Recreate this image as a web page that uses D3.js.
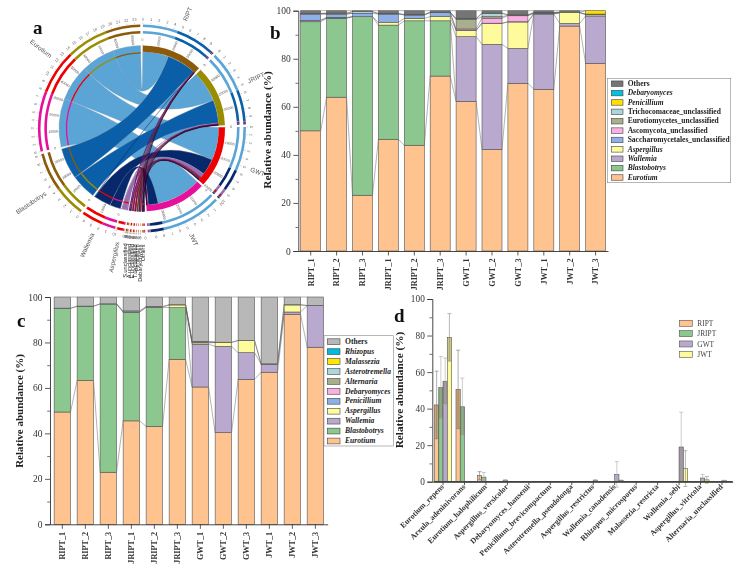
<!DOCTYPE html>
<html><head><meta charset="utf-8">
<script src="https://cdn.jsdelivr.net/npm/d3@7/dist/d3.min.js"></script>
<style>
html,body{margin:0;padding:0;background:#fff}
svg{display:block;filter:blur(.42px)}
text{font-family:"Liberation Serif",serif}
</style></head><body>
<svg id="c" width="750" height="569"></svg>
<script>
// ---------- shared categories ----------
const samples = ["RIPT_1","RIPT_2","RIPT_3","JRIPT_1","JRIPT_2","JRIPT_3","GWT_1","GWT_2","GWT_3","JWT_1","JWT_2","JWT_3"];
const yTicksMajor = [0,20,40,60,80,100];
const yTicksMinor = [10,30,50,70,90];

// ---------- panel a: chord flows (percent) ----------
const chordSamples = ["RIPT","JRIPT","GWT","JWT"];
const chordGenera = ["Eurotium","Blastobotrys","Wallemia","Aspergillus","S.unclassified","A.unclassified","E.unclassified","T.unclassified","Penicillium","Debaryomyces","Others"];
const flowRIPT  = [45.7,50.8,0.2,0,1.6,0.2,0.2,0.2,0.2,0.1,0.7];
const flowJRIPT = [54.5,40.8,0,0.8,1.6,0.1,0.1,0.2,0.1,0.1,1.3];
const flowGWT   = [58,0,28.5,7.5,0.3,1.8,1.8,0.6,0.4,0.3,1.5];
const flowJWT   = [79,0,17.5,2,0.1,0.1,0.1,0.1,0.2,0.1,0.7];
const sampleColors = ["#8B5A0B","#9A8C00","#EE0000","#E6109A"];
const generaColors = ["#5AA5D6","#0B5EA8","#07296B","#9A6BB0","#5A1A6A","#8B1050","#7A1040","#5A3A10","#401060","#801030","#200838"];

// ---------- panel b: stacked values ----------
const bEurotium = [50,64,23.2,46.5,44,72.8,62.3,42.3,69.8,67.3,93.6,78.1];
const bBlastobotrys = [45.4,32.8,74.3,47.5,51.8,23,0,0,0,0,0,0];
const bWallemia = [0.6,0.2,0,0,0,0,26.9,43.7,14.5,31.3,1.1,19.7];
const bAspergillus = [0,0.2,0,1.2,1,1.7,2.5,8.7,11,0.1,4.5,0.5];
const bSaccharomycetales = [2.6,1.4,1.4,3.4,1.4,1.7,0.2,0.1,0.1,0.1,0,0];
const bAscomycota = [0,0,0,0,0,0,0.5,2.1,2.5,0.1,0,0];
const bEurotiomycetes = [0.1,0.1,0,0,0,0,4,0.6,0.2,0.1,0,0.2];
const bTrichocomaceae = [0.1,0.1,0.7,0.1,0.1,0.1,0.2,1.4,0.1,0.1,0,0.1];
const bPenicillium = [0.1,0.2,0,0.2,0.1,0.1,0.2,0.1,0.1,0.2,0.2,1.4];
const bDebaryomyces = [0,0,0,0,0,0,0,0,0,0,0,0];
const bOthers = [1.1,1,0.4,1.1,1.6,0.6,3.2,1,1.7,0.7,0.6,0];
const bNames = ["Eurotium","Blastobotrys","Wallemia","Aspergillus","Saccharomycetales_unclassified","Ascomycota_unclassified","Eurotiomycetes_unclassified","Trichocomaceae_unclassified","Penicillium","Debaryomyces","Others"];
const bColors = ["#FFC38F","#8CC78F","#B9A9CE","#FDFB9C","#8FAFE8","#FBB0E4","#A9AE8C","#ABD6DC","#FFDE00","#00C2E0","#757575"];
const bItalic = [1,1,1,1,0,0,0,0,1,1,0];

// ---------- panel c: stacked values ----------
const cEurotium = [49.4,63.3,22.9,45.5,43.1,72.6,60.4,40.3,63.8,66.9,92.4,77.9];
const cBlastobotrys = [45.5,32.6,74,47.8,52.4,22.7,0,0,0,0,0,0];
const cWallemia = [0,0,0,0,0,0,18.8,38,11.7,3.5,1,18.3];
const cAspergillus = [0,0,0,0.1,0.1,1.2,0.6,1.7,5.3,0.1,3.1,0];
const cPenicillium = [0.2,0.1,0.1,0.5,0.2,0.1,0.1,0.1,0.1,0.1,0.1,0.1];
const cDebaryomyces = [0,0,0,0,0,0,0,0,0,0,0,0];
const cAlternaria = [0,0,0,0,0,0,0.5,0,0,0,0,0];
const cAsterotremella = [0,0,0,0,0,0,0,0,0,0,0,0];
const cMalassezia = [0,0,0,0,0,0,0,0,0,0,0,0];
const cRhizopus = [0,0,0,0,0,0,0.1,0,0,0,0,0];
const cOthers = [4.9,4,3,6.1,4.2,3.4,19.5,19.9,19.1,29.4,3.4,3.7];
const cNames = ["Eurotium","Blastobotrys","Wallemia","Aspergillus","Penicillium","Debaryomyces","Alternaria","Asterotremella","Malassezia","Rhizopus","Others"];
const cColors = ["#FFC38F","#8CC78F","#B9A9CE","#FDFB9C","#8FAFE8","#FBB0E4","#A9AE8C","#ABD6DC","#FFE800","#00BADF","#B8B8B8"];
const cItalic = [1,1,1,1,1,1,1,1,1,1,0];

// ---------- panel d: grouped values ----------
const species = ["Eurotium_repens","Arxula_adeninivorans","Eurotium_halophilicum","Aspergillus_versicolor","Debaryomyces_hansenii","Penicillium_brevicompactum","Asterotremella_pseudolonga","Aspergillus_restrictus","Wallemia_canadensis","Rhizopus_microsporus","Malassezia_restricta","Wallemia_sebi","Aspergillus_vitricola","Alternaria_unclassified"];
const dGroups = ["RIPT","JRIPT","GWT","JWT"];
const dRIPT  = [42,50.5,3.3,0.1,0.1,0.1,0.1,0.1,0.1,0.1,0.1,0.1,0.1,0.1];
const dJRIPT = [51.5,41,2.5,0.8,0.1,0.1,0.1,0.1,0.1,0.1,0.1,0.1,0.1,0.1];
const dGWT   = [55,0.1,0.1,0.1,0.1,0.1,0.1,0.8,4,0.1,0.1,19,2,0.6];
const dJWT   = [79,0.1,0.1,0.1,0.1,0.1,0.1,0.1,0.6,0.1,0.1,7.2,1,0.1];
const dRIPTerr  = [18.5,21.5,2.2,0,0,0,0,0,0,0,0,0,0,0];
const dJRIPTerr = [17,15.7,2.5,0.4,0,0,0,0,0,0,0,0,0,0];
const dGWTerr   = [12.7,0,0,0,0,0,0,0.4,7,0,0,19,2,0.2];
const dJWTerr   = [13,0,0,0,0,0,0,0,0.3,0,0,9.8,1.8,0];
const dColors = ["#FFC38F","#8CC78F","#B9A9CE","#FDFB9C"];
const dErrColors = ["#777","#aaa","#aaa","#8a8a8a"];

const svg = d3.select("#c");
const AX = "#333", TX = "#333";

function styleAxis(g, fs, bold){
  g.selectAll(".domain").attr("stroke",AX).attr("stroke-width",0.9);
  g.selectAll(".tick line").attr("stroke",AX).attr("stroke-width",0.8);
  g.selectAll(".tick text").attr("fill",TX).style("font-family",'"Liberation Serif",serif')
    .style("font-size",fs+"px").style("font-weight",bold?"bold":"normal");
}
function yAxis(y, left, fs){
  const g = svg.append("g").attr("transform",`translate(${left},0)`)
    .call(d3.axisLeft(y).tickValues(yTicksMajor).tickFormat(d3.format("d")).tickSize(5).tickPadding(2.5));
  styleAxis(g,fs,false);
  const m = svg.append("g").attr("transform",`translate(${left},0)`)
    .call(d3.axisLeft(y).tickValues(yTicksMinor).tickFormat("").tickSize(2.8));
  m.select(".domain").remove();
  m.selectAll(".tick line").attr("stroke",AX).attr("stroke-width",0.7);
}
function yTitle(x, yc, fs){
  svg.append("text").attr("transform",`translate(${x},${yc}) rotate(-90)`).attr("text-anchor","middle")
    .attr("fill","#222").style("font-weight","bold").style("font-size",fs+"px").text("Relative abundance (%)");
}
function panelLetter(t,x,y){
  svg.append("text").attr("x",x).attr("y",y).attr("fill","#111").style("font-weight","bold").style("font-size","19px").text(t);
}

function stackedPanel(cfg){
  const rows = samples.map((s,i)=>{const r={sample:s}; cfg.names.forEach((n,k)=>r[n]=cfg.series[k][i]); return r;});
  const stack = d3.stack().keys(cfg.names)(rows);
  const x = d3.scaleBand().domain(samples).range(cfg.xr).paddingInner(cfg.pi).paddingOuter(cfg.po);
  const y = d3.scaleLinear().domain([0,100]).range(cfg.yr);
  // connector lines
  const cg = svg.append("g");
  stack.forEach(s=>{
    d3.pairs(s).forEach(([a,b])=>{
      if(a[1]-a[0]<=0 && b[1]-b[0]<=0) return;
      cg.append("line").attr("x1",x(a.data.sample)+x.bandwidth()).attr("x2",x(b.data.sample))
        .attr("y1",y(a[1])).attr("y2",y(b[1])).attr("stroke","#555").attr("stroke-width",0.45);
    });
  });
  stack.forEach((s,k)=>{
    svg.append("g").selectAll("rect").data(s.filter(d=>d[1]-d[0]>0)).join("rect")
      .attr("x",d=>x(d.data.sample)).attr("width",x.bandwidth())
      .attr("y",d=>y(d[1])).attr("height",d=>y(d[0])-y(d[1]))
      .attr("fill",cfg.colors[k]).attr("stroke","#555").attr("stroke-width",0.6);
  });
  const gx = svg.append("g").attr("transform",`translate(0,${cfg.yr[0]})`)
    .call(d3.axisBottom(x).tickSize(4.5).tickSizeOuter(0));
  styleAxis(gx,cfg.xfs,true);
  gx.selectAll(".tick text").attr("transform","rotate(-90)").attr("text-anchor","end").attr("dx",-3.5).attr("dy",0).attr("x",-4).attr("y",2.8);
  yAxis(y,cfg.xr[0],cfg.yfs);
  // legend
  const L = cfg.legend;
  svg.append("rect").attr("x",L.x).attr("y",L.y).attr("width",L.w).attr("height",L.h).attr("fill","#fff").attr("stroke","#888").attr("stroke-width",0.6);
  cfg.names.slice().reverse().forEach((n,j)=>{
    const k = cfg.names.length-1-j, yy = L.y0 + j*L.dy;
    svg.append("rect").attr("x",L.sx).attr("y",yy-L.sh/2).attr("width",L.sw).attr("height",L.sh).attr("fill",cfg.colors[k]).attr("stroke","#444").attr("stroke-width",0.6);
    svg.append("text").attr("x",L.tx).attr("y",yy+2.2).attr("fill","#222").style("font-weight","bold").style("font-size",L.fs+"px")
      .style("font-style",cfg.italic[k]?"italic":"normal").text(n);
  });
}

stackedPanel({
  names:bNames, colors:bColors, italic:bItalic,
  series:[bEurotium,bBlastobotrys,bWallemia,bAspergillus,bSaccharomycetales,bAscomycota,bEurotiomycetes,bTrichocomaceae,bPenicillium,bDebaryomyces,bOthers],
  xr:[298.3,608], yr:[251,10.7], pi:.228, po:.0925, xfs:8.2, yfs:9.5,
  legend:{x:607.3,y:78.3,w:123.4,h:104.4,y0:83.7,dy:9.38,sx:611.3,sw:11.7,sh:5.5,tx:627.7,fs:7.5}
});
stackedPanel({
  names:cNames, colors:cColors, italic:cItalic,
  series:[cEurotium,cBlastobotrys,cWallemia,cAspergillus,cPenicillium,cDebaryomyces,cAlternaria,cAsterotremella,cMalassezia,cRhizopus,cOthers],
  xr:[50,327.7], yr:[524.3,297], pi:.287, po:.18, xfs:8.2, yfs:9.5,
  legend:{x:324,y:335.7,w:69.3,h:110.3,y0:341.7,dy:9.93,sx:327.3,sw:12.7,sh:5.8,tx:345,fs:7.6}
});

// ---------- panel d ----------
(function(){
  const x = d3.scaleBand().domain(species).range([432.3,732.7]);
  const sub = d3.scaleBand().domain(dGroups).range([-8.5,8.5]);
  const y = d3.scaleLinear().domain([0,100]).range([481.7,299]);
  const vals=[dRIPT,dJRIPT,dGWT,dJWT], errs=[dRIPTerr,dJRIPTerr,dGWTerr,dJWTerr];
  dGroups.forEach((g,k)=>{
    const cx=i=>x(species[i])+x.bandwidth()/2+sub(g);
    const G=svg.append("g");
    vals[k].forEach((v,i)=>{
      G.append("rect").attr("x",cx(i)).attr("width",sub.bandwidth()).attr("y",y(v)).attr("height",y(0)-y(v))
        .attr("fill",dColors[k]).attr("stroke","#555").attr("stroke-width",0.6);
      const e=errs[k][i];
      if(e>0){
        const m=cx(i)+sub.bandwidth()/2;
        const lo=Math.max(v-e,0);
        if(v>=10) G.append("rect").attr("x",cx(i)).attr("width",sub.bandwidth()).attr("y",y(v)).attr("height",y(lo)-y(v)).attr("fill","#6b6440").attr("opacity",.32);
        G.append("line").attr("x1",m).attr("x2",m).attr("y1",y(v+e)).attr("y2",y(v-e)).attr("stroke",dErrColors[k]).attr("stroke-width",0.6);
        [v+e,v-e].forEach(t=>G.append("line").attr("x1",m-2).attr("x2",m+2).attr("y1",y(t)).attr("y2",y(t)).attr("stroke",dErrColors[k]).attr("stroke-width",0.6));
      }
    });
  });
  const gx = svg.append("g").attr("transform",`translate(0,${y(0)})`).call(d3.axisBottom(x).tickSize(3.5).tickSizeOuter(0));
  styleAxis(gx,7.8,true);
  gx.selectAll(".tick text").attr("transform","rotate(-45)").attr("text-anchor","end").attr("x",-3).attr("y",5).attr("dy",0);
  yAxis(y,432.3,9.3);
  // thick baseline from minute bars
  svg.append("line").attr("x1",x.range()[0]+2).attr("x2",x.range()[1]).attr("y1",y(0)).attr("y2",y(0)).attr("stroke","#444").attr("stroke-width",1.4);
  dGroups.forEach((g,k)=>{
    const yy=323.3+k*10.33;
    svg.append("rect").attr("x",679.3).attr("y",yy-3).attr("width",13).attr("height",6).attr("fill",dColors[k]).attr("stroke","#555").attr("stroke-width",0.6);
    svg.append("text").attr("x",697.3).attr("y",yy+2.6).attr("fill","#444").style("font-size","7.4px").text(g);
  });
})();

// ---------- panel a ----------
(function(){
  const cx=142, cy=128.5, rad=Math.PI/180;
  const flows=[flowRIPT,flowJRIPT,flowGWT,flowJWT];
  const sSum=flows.map(f=>d3.sum(f));
  const gSum=chordGenera.map((g,j)=>d3.sum(flows,f=>f[j]));
  const total=d3.sum(sSum)+d3.sum(gSum);
  const seqG=d3.range(chordGenera.length-1,-1,-1);
  const gapOf=(kind,j)=>(kind=="g"&&j>=3)?0.75:1.45;
  const gapSum=d3.sum(chordSamples,()=>gapOf("s",0))+d3.sum(seqG,j=>gapOf("g",j));
  const ang=d3.scaleLinear().domain([0,total]).range([0,(360-gapSum)*rad]);
  const G=svg.append("g").attr("transform",`translate(${cx},${cy})`);
  let a=0.5*rad;
  const sec=[];
  chordSamples.forEach((n,i)=>{sec.push({name:n,start:a,end:a+ang(sSum[i]),sum:sSum[i],kind:"s",idx:i}); a=sec[sec.length-1].end+gapOf("s",i)*rad;});
  seqG.forEach(j=>{sec.push({name:chordGenera[j],start:a,end:a+ang(gSum[j]),sum:gSum[j],kind:"g",idx:j}); a=sec[sec.length-1].end+gapOf("g",j)*rad;});
  const R0=76.7,R1=83;
  const ribbon=d3.ribbon();
  const arc=d3.arc();
  const posS={},posG={};
  sec.forEach(s=>{ if(s.kind=="s") posS[s.idx]=s.start; else posG[s.idx]=s.start; });
  const links=[];
  chordGenera.forEach((g,j)=>{ chordSamples.forEach((n,i)=>{links.push({i,j,v:flows[i][j]});}); });
  const segs=[];
  chordSamples.forEach((n,i)=>{chordGenera.forEach((g,j)=>{const v=flows[i][j]; if(v<=0)return; const st=posS[i],en=st+ang(v); posS[i]=en;
     links.find(l=>l.i==i&&l.j==j).src=[st,en]; segs.push({st,en,color:generaColors[j]});});});
  chordGenera.forEach((g,j)=>{[3,2,1,0].forEach(i=>{const v=flows[i][j]; if(v<=0)return; const st=posG[j],en=st+ang(v); posG[j]=en;
     links.find(l=>l.i==i&&l.j==j).tgt=[st,en]; segs.push({st,en,color:sampleColors[i],genus:true});});});
  links.filter(l=>l.v>0).forEach(l=>{
    const p=G.append("path").attr("d",ribbon({source:{startAngle:l.src[0],endAngle:l.src[1],radius:R0},target:{startAngle:l.tgt[0],endAngle:l.tgt[1],radius:R1}}))
     .attr("fill",generaColors[l.j]);
    if(l.v<3) p.attr("stroke",generaColors[l.j]).attr("stroke-width",0.3);
    else p.attr("stroke","#8f9fb0").attr("stroke-width",0.35);
  });
  sec.filter(s=>s.kind=="s").forEach(s=>{
    G.append("path").attr("d",arc({innerRadius:R0,outerRadius:R1,startAngle:s.start,endAngle:s.end})).attr("fill",sampleColors[s.idx]);
  });
  segs.filter(s=>s.genus).forEach(s=>{
    G.append("path").attr("d",arc({innerRadius:R0-1.8,outerRadius:R0-0.5,startAngle:s.st,endAngle:s.en})).attr("fill",s.color);
  });
  [[95,97.6],[101.4,104]].forEach(([r0,r1])=>{
    segs.forEach(s=>G.append("path").attr("d",arc({innerRadius:r0,outerRadius:r1,startAngle:s.st,endAngle:s.en})).attr("fill",s.color));
  });
  const pol=(r,t)=>[r*Math.sin(t),-r*Math.cos(t)];
  sec.forEach(s=>{
    const vals=d3.range(0,s.sum+0.01,s.sum<4?0.5:10);
    vals.forEach((v,n)=>{
      const t=s.start+ang(v), [x1,y1]=pol(104.5,t),[x2,y2]=pol(106,t),[tx,ty]=pol(109,t);
      G.append("line").attr("x1",x1).attr("y1",y1).attr("x2",x2).attr("y2",y2).attr("stroke","#777").attr("stroke-width",.3);
      G.append("text").attr("x",tx).attr("y",ty).attr("text-anchor","middle").attr("dominant-baseline","middle")
       .attr("transform",`rotate(${t/rad} ${tx} ${ty})`).attr("fill","#666").style("font-family",'"Liberation Sans",sans-serif').style("font-size","3.9px").text(s.sum<4?"0":n);
    });
    if(s.sum>=20){
      d3.range(0,s.sum,25).forEach((v,n)=>{
        const t=s.start+ang(v), [x1,y1]=pol(R1,t),[x2,y2]=pol(R1+1.5,t),[tx,ty]=pol(R1+6,t),deg=t/rad;
        G.append("line").attr("x1",x1).attr("y1",y1).attr("x2",x2).attr("y2",y2).attr("stroke","#777").attr("stroke-width",.3);
        const rot=deg<180?deg-90:deg-270;
        G.append("text").attr("x",tx).attr("y",ty).attr("text-anchor","middle").attr("dominant-baseline","middle")
         .attr("transform",`rotate(${rot} ${tx} ${ty})`).attr("fill","#555").style("font-family",'"Liberation Sans",sans-serif').style("font-size","3.5px").text(n*10000||"0");
      });
    }
    const mid=(s.start+s.end)/2, deg=mid/rad, rr=116, [lx,ly]=pol(rr,mid), left=deg>180;
    const small=s.sum<10&&s.name!="Aspergillus";
    G.append("text").attr("x",lx).attr("y",ly).attr("text-anchor",left||small?"end":"start").attr("dominant-baseline","middle")
      .attr("transform",`rotate(${small?-90:(left?deg-270:deg-90)} ${lx} ${ly})`)
      .attr("fill",small?"#222":"#555").style("font-family",'"Liberation Sans",sans-serif').style("font-size",small?"5.6px":"6.4px").text(s.name);
  });
})();

yTitle(271,130,11.4);
yTitle(23,411,11);
yTitle(403,390,11.3);
panelLetter("a",33,34);
panelLetter("b",270,39);
panelLetter("c",17,326.7);
panelLetter("d",394,321.7);
</script></body></html>
